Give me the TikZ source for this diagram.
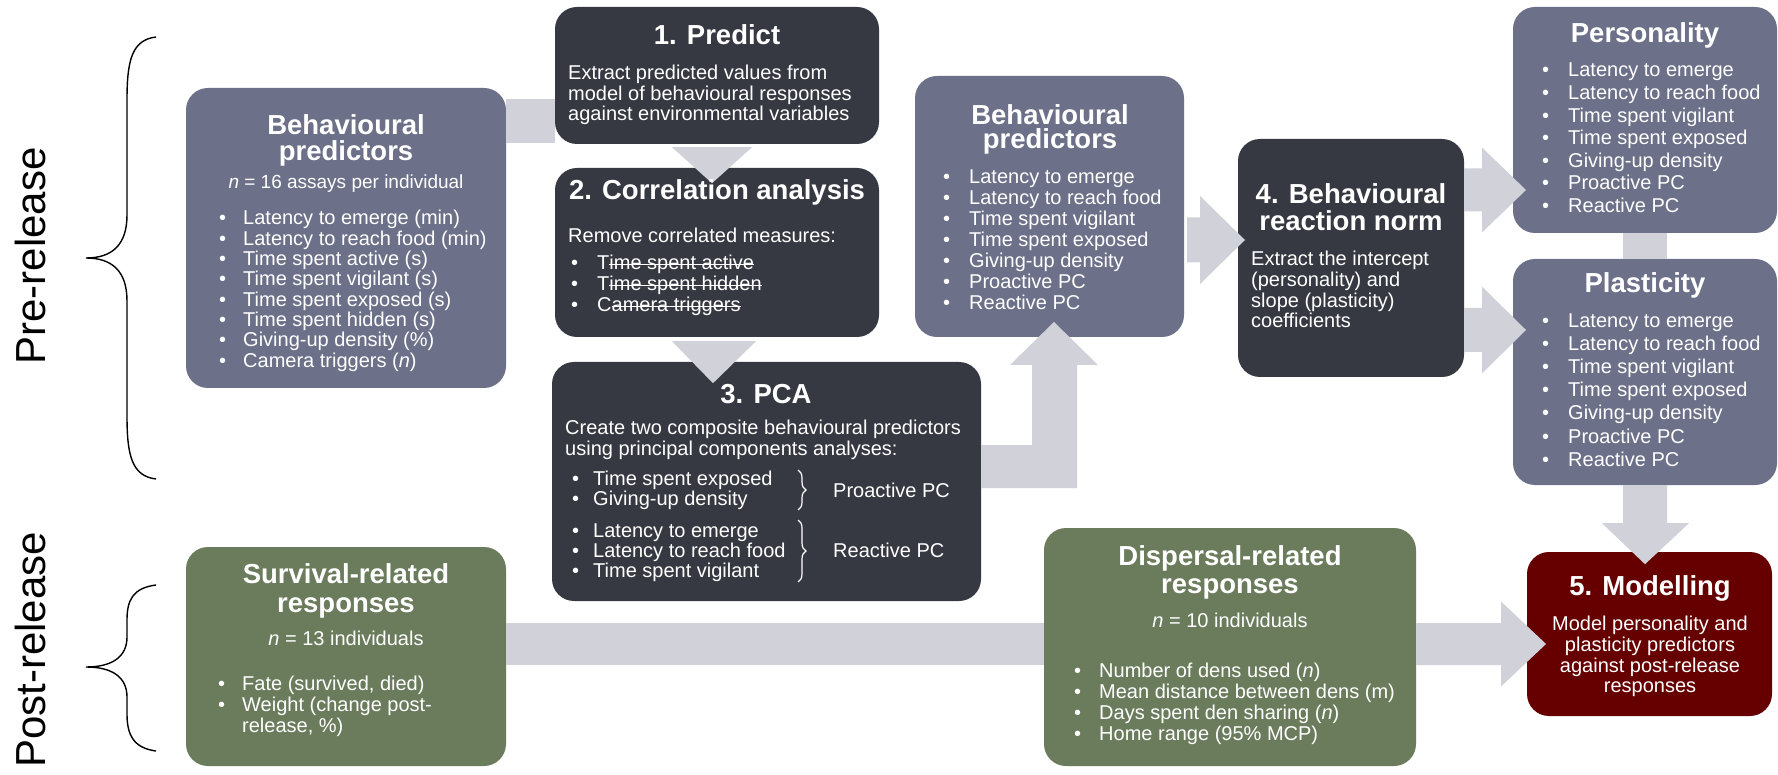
\documentclass[tikz,border=0pt]{standalone}
\usepackage{fontspec}
\setmainfont{Liberation Sans}
\usetikzlibrary{fit,calc,decorations.pathreplacing}

\definecolor{slateC}{RGB}{108,112,136}
\definecolor{darkC}{RGB}{55,57,66}
\definecolor{greenC}{RGB}{107,124,93}
\definecolor{redC}{RGB}{102,0,0}
\definecolor{connC}{RGB}{208,209,217}

% struck-through text
\newsavebox\strikebox
\newcommand\strikeout[1]{\sbox\strikebox{#1}\rlap{\rule[0.26em]{\wd\strikebox}{0.055em}}\usebox\strikebox}

\tikzset{
  card/.style={rounded corners=22pt, inner sep=0pt, draw=none},
  slatecard/.style={card, fill=slateC},
  darkcard/.style={card, fill=darkC},
  greencard/.style={card, fill=greenC},
  redcard/.style={card, fill=redC},
  ttl/.style={font=\fontsize{27.5}{30}\selectfont\bfseries, text=white, inner sep=0pt, anchor=base},
  txt/.style={font=\fontsize{20}{22}\selectfont, text=white, inner sep=0pt, anchor=base west},
  ctxt/.style={txt, anchor=base},
  conn/.style={fill=connC, draw=none},
  sidelabel/.style={font=\fontsize{42}{46}\selectfont, rotate=90, inner sep=0pt},
  bracket/.style={draw=black, line width=1.4pt},
  pcbrace/.style={draw=white, line width=1.2pt, decorate, decoration={brace, amplitude=8pt}},
}

% bullet list: name, bullet x, text x, first baseline, line pitch, items
\newcommand\blist[6]{%
  \foreach \itm [count=\ii from 0] in {#6}{%
    \node[txt] (#1-b\ii) at (#2,{#4+#5*\ii}) {\textbullet};
    \node[txt] (#1-t\ii) at (#3,{#4+#5*\ii}) {\itm};
  }}

% right-pointing block arrow: start x, head base x, tip x, centre y, shaft half, head half
\newcommand\rarrow[6]{%
  \fill[conn] (#1,{#4-#5}) -- (#2,{#4-#5}) -- (#2,{#4-#6}) -- (#3,#4)
    -- (#2,{#4+#6}) -- (#2,{#4+#5}) -- (#1,{#4+#5}) -- cycle;}

\begin{document}
\begin{tikzpicture}[x=1pt,y=-1pt]
\fill[white] (0,0) rectangle (1778,775);
\useasboundingbox (0,0) rectangle (1778,775);

% ---------- cards ----------
\node[slatecard, fit={(186,88) (506,388)}] (bp1) {};
\node[darkcard,  fit={(555,7) (879,144)}] (predict) {};
\node[darkcard,  fit={(555,168) (879,337)}] (corr) {};
\node[darkcard,  fit={(552,362) (981,601)}] (pca) {};
\node[slatecard, fit={(915,76) (1184,337)}] (bp2) {};
\node[darkcard,  fit={(1238,139) (1464,377)}] (norm) {};
\node[slatecard, fit={(1513,7) (1777,233)}] (pers) {};
\node[slatecard, fit={(1513,259) (1777,485)}] (plast) {};
\node[greencard, fit={(186,547) (506,766)}] (surv) {};
\node[greencard, fit={(1044,528) (1416,766)}] (disp) {};
\node[redcard,   fit={(1527,552) (1772,716)}] (model) {};

% ---------- connectors ----------
\fill[conn] (bp1.east |- 0,99) rectangle (predict.west |- 0,143);
\fill[conn] ($(predict.south)+(-45,3)$) -- ($(predict.south)+(35,3)$) -- ($(predict.south)+(-5,39)$) -- cycle;
\fill[conn] ($(corr.south)+(-45,4)$) -- ($(corr.south)+(39,4)$) -- ($(corr.south)+(-4,46)$) -- cycle;
\fill[conn] (pca.east |- 0,445) -- (1032,445) -- (1032,365) -- (1010,365) -- (1054,322)
  -- (1098,365) -- (1077,365) -- (1077,488) -- (pca.east |- 0,488) -- cycle;
\rarrow{1187}{1200}{1245}{240}{22.5}{44}
\rarrow{1464}{1482}{1526}{190}{21.5}{42.5}
\rarrow{1464}{1482}{1526}{330}{22}{43.5}
\fill[conn] ($(pers.south)+(-22,0)$) rectangle ($(plast.north)+(22,0)$);
\fill[conn] ($(plast.south)+(-22,0)$) -- ($(plast.south)+(-22,38)$) -- ($(plast.south)+(-43,38)$)
  -- ($(plast.south)+(0,79)$) -- ($(plast.south)+(44,38)$) -- ($(plast.south)+(22,38)$)
  -- ($(plast.south)+(22,0)$) -- cycle;
\fill[conn] (surv.east |- 0,623) rectangle (disp.west |- 0,665);
\rarrow{1416}{1501}{1546}{644}{21}{42.5}

% ---------- phase labels and braces ----------
\node[sidelabel] (pre) at (30,256) {Pre-release};
\node[sidelabel] (post) at (30,650) {Post-release};
\draw[bracket] (156,37) .. controls (132,40) and (127,60) .. (127,100) -- (127,215)
  .. controls (127,245) and (112,258) .. (86,258)
  .. controls (112,258) and (127,271) .. (127,301) -- (127,416)
  .. controls (127,456) and (132,476) .. (156,479);
\draw[bracket] (156,585) .. controls (133,588) and (127,600) .. (127,620) -- (127,637)
  .. controls (127,657) and (112,667) .. (86,667)
  .. controls (112,667) and (127,677) .. (127,697) -- (127,714)
  .. controls (127,734) and (133,748) .. (156,751);

% ---------- behavioural predictors (raw) ----------
\node[ttl] (bp1-h1) at (346,135) {Behavioural};
\node[ttl] (bp1-h2) at (346,161) {predictors};
\node[ctxt, font=\fontsize{19}{21}\selectfont] (bp1-n) at (346,189) {\textit{n} = 16 assays per individual};
\blist{bp1}{219}{243}{225}{20.3}{Latency to emerge (min), Latency to reach food (min), Time spent active (s), Time spent vigilant (s), Time spent exposed (s), Time spent hidden (s), Giving-up density (\%), Camera triggers (\textit{n})}

% ---------- 1. Predict ----------
\node[ttl] (pr-h) at (717,45) {1. Predict};
\node[txt] (pr-1) at (568,80) {Extract predicted values from};
\node[txt] (pr-2) at (568,100.5) {model of behavioural responses};
\node[txt] (pr-3) at (568,121) {against environmental variables};

% ---------- 2. Correlation analysis ----------
\node[ttl] (co-h) at (717,200) {2. Correlation analysis};
\node[txt] (co-1) at (568,243) {Remove correlated measures:};
\blist{co}{571}{597}{270}{21}{T\strikeout{ime spent active}, T\strikeout{ime spent hidden}, C\strikeout{amera triggers}}

% ---------- 3. PCA ----------
\node[ttl] (pca-h) at (766,403) {3. PCA};
\node[txt] (pca-1) at (565,435) {Create two composite behavioural predictors};
\node[txt] (pca-2) at (565,455) {using principal components analyses:};
\blist{pca}{572}{593}{485}{20}{Time spent exposed, Giving-up density}
\blist{pcb}{572}{593}{537}{20}{Latency to emerge, Latency to reach food, Time spent vigilant}
\draw[pcbrace] (798,470) -- (798,510);
\node[txt] (pca-p) at (833,497) {Proactive PC};
\draw[pcbrace] (798,520) -- (798,582);
\node[txt] (pca-r) at (833,557) {Reactive PC};

% ---------- behavioural predictors (composite) ----------
\node[ttl] (bp2-h1) at (1050,125) {Behavioural};
\node[ttl] (bp2-h2) at (1050,149) {predictors};
\blist{bp2}{943}{969}{184}{21}{Latency to emerge, Latency to reach food, Time spent vigilant, Time spent exposed, Giving-up density, Proactive PC, Reactive PC}

% ---------- 4. Behavioural reaction norm ----------
\node[ttl] (no-h1) at (1351,204) {4. Behavioural};
\node[ttl] (no-h2) at (1351,231) {reaction norm};
\node[txt] (no-1) at (1251,266) {Extract the intercept};
\node[txt] (no-2) at (1251,287) {(personality) and};
\node[txt] (no-3) at (1251,308) {slope (plasticity)};
\node[txt] (no-4) at (1251,328) {coefficients};

% ---------- personality / plasticity ----------
\node[ttl] (pe-h) at (1645,43) {Personality};
\blist{pe}{1542}{1568}{77}{22.6}{Latency to emerge, Latency to reach food, Time spent vigilant, Time spent exposed, Giving-up density, Proactive PC, Reactive PC}
\node[ttl] (pl-h) at (1645,293) {Plasticity};
\blist{pl}{1542}{1568}{328}{23}{Latency to emerge, Latency to reach food, Time spent vigilant, Time spent exposed, Giving-up density, Proactive PC, Reactive PC}

% ---------- survival ----------
\node[ttl] (su-h1) at (346,583) {Survival-related};
\node[ttl] (su-h2) at (346,612) {responses};
\node[ctxt] (su-n) at (346,645) {\textit{n} = 13 individuals};
\blist{su}{218}{242}{690}{21}{{Fate (survived, died)}, {Weight (change post-}}
\node[txt] (su-t2) at (242,732) {release, \%)};

% ---------- dispersal ----------
\node[ttl] (di-h1) at (1230,565) {Dispersal-related};
\node[ttl] (di-h2) at (1230,593) {responses};
\node[ctxt] (di-n) at (1230,627) {\textit{n} = 10 individuals};
\blist{di}{1074}{1099}{677}{21}{Number of dens used (\textit{n}), Mean distance between dens (m), Days spent den sharing (\textit{n}), Home range (95\% MCP)}

% ---------- 5. Modelling ----------
\node[ttl] (mo-h) at (1650,595) {5. Modelling};
\node[ctxt] (mo-1) at (1650,630) {Model personality and};
\node[ctxt] (mo-2) at (1650,651) {plasticity predictors};
\node[ctxt] (mo-3) at (1650,672) {against post-release};
\node[ctxt] (mo-4) at (1650,692) {responses};
\end{tikzpicture}
\end{document}
